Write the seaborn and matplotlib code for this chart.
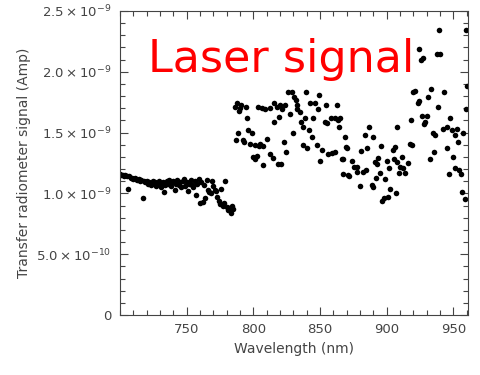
import numpy as np
import pandas as pd
import seaborn as sns
import matplotlib.pyplot as plt
from matplotlib.ticker import FixedLocator, MultipleLocator

# first scan segment (nm, signal in units of 1e-9 A)
wl_a = [700, 701, 702, 703, 704, 705, 706, 707, 708, 709, 710, 711, 712, 713, 714,
        715, 716, 717, 718, 719, 720, 721, 722, 723, 724, 725, 726, 727, 728, 729,
        730, 731, 732, 733, 734, 735, 736, 737, 738, 739, 740, 741, 742, 743, 744,
        745, 746, 747, 748, 749, 750, 751, 752, 753, 754, 755, 756, 757, 758, 759,
        760, 761, 762, 763, 764, 765, 766, 767, 768, 769, 770, 771, 772, 773, 774,
        775, 776, 777, 778, 779, 780, 781, 782, 783, 784, 785]
sig_a = [1.16, 1.15, 1.15, 1.14, 1.15, 1.14, 1.04, 1.14, 1.13, 1.13, 1.12, 1.13, 1.12, 1.11, 1.12,
         1.10, 1.11, 0.96, 1.10, 1.09, 1.10, 1.08, 1.09, 1.07, 1.08, 1.10, 1.09, 1.06, 1.08, 1.10,
         1.07, 1.05, 1.09, 1.01, 1.07, 1.10, 1.08, 1.11, 1.06, 1.09, 1.10, 1.03, 1.08, 1.11, 1.07,
         1.09, 1.05, 1.10, 1.12, 1.06, 1.09, 1.02, 1.08, 1.11, 1.07, 1.05, 1.10, 0.99, 1.08, 1.12,
         0.92, 1.09, 0.93, 1.07, 0.96, 1.11, 1.03, 1.01, 1.00, 1.10, 1.06, 1.03, 1.02, 0.97, 0.94,
         0.91, 1.04, 0.90, 0.92, 1.10, 0.89, 0.86, 0.88, 0.84, 0.90, 0.87]

# second scan segment
wl_b = [786, 787, 788, 788.5, 789, 790, 791, 792, 793, 794.5, 795, 796, 797.5, 799, 800,
        801, 801.5, 803, 803.5, 804, 805, 806.5, 807, 807.5, 809, 810, 812.5, 812.8, 815, 815.3,
        815.5, 818, 818.5, 819, 820, 821, 821.5, 823, 824, 824.5, 826, 827.5, 829, 830, 830.5,
        832, 832.5, 833, 835, 836, 837, 837.5, 839, 839.5, 840, 842, 842.5, 844, 845, 846,
        848, 848.5, 849, 850, 851.5, 854, 854.5, 855, 856, 858, 859, 861, 861.5, 862.5, 863.5,
        864, 865, 866.5, 867, 867.5, 869, 869.5, 870, 871, 872, 874, 875.5, 877.5, 878, 880,
        881, 882, 884, 884.5, 885, 887, 889, 889.5, 890, 891, 892, 892.5, 893.5, 895, 896,
        896.5, 898, 899, 900, 901, 902, 902.5, 905, 905.5, 906, 907, 907.5, 907.8, 909, 910,
        911.5, 912, 913.5, 916, 917.5, 918, 919, 920, 921, 923.5, 924, 924.5, 925.5, 926.5, 927,
        928, 929, 930, 931, 932.5, 933, 935, 935.5, 936, 938, 938.5, 939, 940, 942, 943,
        945, 945.5, 947, 947.5, 949, 950, 951, 951.5, 953, 953.5, 954, 956, 956.5, 957, 959,
        959.5, 959.8, 960]
sig_b = [1.71, 1.44, 1.74, 1.50, 1.68, 1.70, 1.73, 1.44, 1.42, 1.71, 1.62, 1.52, 1.41, 1.50, 1.30,
         1.40, 1.28, 1.31, 1.71, 1.39, 1.41, 1.70, 1.23, 1.39, 1.69, 1.45, 1.32, 1.70, 1.29, 1.59,
         1.74, 1.71, 1.24, 1.63, 1.73, 1.24, 1.69, 1.42, 1.73, 1.34, 1.83, 1.65, 1.83, 1.50, 1.79,
         1.77, 1.69, 1.73, 1.67, 1.59, 1.55, 1.40, 1.62, 1.83, 1.37, 1.52, 1.74, 1.46, 1.62, 1.74,
         1.40, 1.69, 1.81, 1.27, 1.36, 1.59, 1.73, 1.58, 1.32, 1.62, 1.33, 1.34, 1.62, 1.73, 1.60,
         1.55, 1.62, 1.28, 1.16, 1.28, 1.46, 1.38, 1.37, 1.15, 1.14, 1.27, 1.22, 1.18, 1.22, 1.06,
         1.35, 1.18, 1.48, 1.19, 1.37, 1.55, 1.07, 1.05, 1.46, 1.26, 1.13, 1.24, 1.29, 1.17, 1.39,
         0.94, 0.96, 1.12, 1.27, 0.97, 1.21, 1.04, 1.36, 1.28, 1.38, 1.00, 1.55, 1.26, 1.17, 1.22,
         1.30, 1.21, 1.17, 1.25, 1.41, 1.60, 1.40, 1.83, 1.84, 1.74, 2.19, 1.76, 2.10, 1.64, 2.11,
         1.57, 1.59, 1.64, 1.79, 1.28, 1.86, 1.50, 1.34, 1.48, 2.15, 1.71, 2.34, 2.15, 1.53, 1.83,
         1.37, 1.55, 1.16, 1.62, 1.52, 1.30, 1.48, 1.21, 1.53, 1.42, 1.19, 1.16, 1.01, 1.50, 0.95,
         1.69, 2.34, 1.88]

y_ticks = [0, 0.5e-9, 1.0e-9, 1.5e-9, 2.0e-9, 2.5e-9]
y_labels = ["0", r"$5.0\times10^{-10}$", r"$1.0\times10^{-9}$", r"$1.5\times10^{-9}$",
            r"$2.0\times10^{-9}$", r"$2.5\times10^{-9}$"]
x_ticks = [750, 800, 850, 900, 950]

df = pd.DataFrame({
    "wavelength": wl_a + wl_b,
    "signal": np.array(sig_a + sig_b) * 1e-9,
})

sns.set_style("ticks")
plt.rcParams["font.family"] = ["DejaVu Sans"]
plt.rcParams["mathtext.fontset"] = "dejavusans"

fig = plt.figure(figsize=(4.81, 3.75), dpi=100)
ax = fig.add_axes([0.2495, 0.16, 0.7235, 0.8107])

sns.scatterplot(data=df, x="wavelength", y="signal", ax=ax, color="black",
                s=16, linewidth=0, legend=False)

ax.set_xlim(700, 961)
ax.set_ylim(0, 2.5e-9)
ax.xaxis.set_major_locator(FixedLocator(x_ticks))
ax.xaxis.set_minor_locator(MultipleLocator(10))
ax.set_yticks(y_ticks)
ax.set_yticklabels(y_labels)
ax.yaxis.set_minor_locator(MultipleLocator(1e-10))

gray = "#444444"
ax.tick_params(which="both", direction="in", top=True, right=True, colors=gray,
               labelcolor=gray, labelsize=9.5, width=0.8)
ax.tick_params(which="major", length=6, pad=6)
ax.tick_params(which="minor", length=3.5)
for sp in ax.spines.values():
    sp.set_color(gray)
    sp.set_linewidth(0.8)

ax.set_xlabel("Wavelength (nm)", color=gray, fontsize=10)
ax.set_ylabel("Transfer radiometer signal (Amp)", color=gray, fontsize=10)
ax.text(0.08, 0.80, "Laser signal", transform=ax.transAxes, color="red",
        fontsize=32, ha="left", va="baseline")

fig.savefig("out.png", dpi=100)
